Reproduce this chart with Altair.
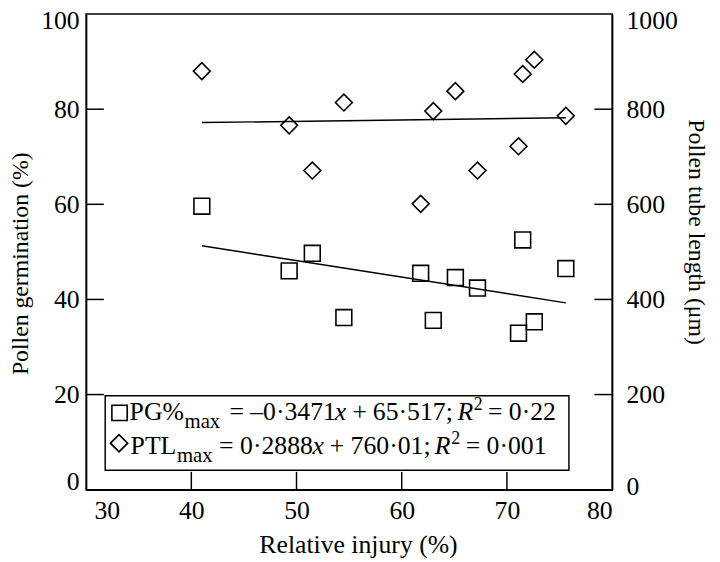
import altair as alt
import pandas as pd

# ---- data ----
injury = [41.0, 49.3, 51.5, 54.5, 61.8, 63.0, 65.1, 67.2, 71.1, 71.5, 72.6, 75.6]
pg_max = [59.6, 46.0, 49.7, 36.2, 45.5, 35.6, 44.6, 42.4, 32.9, 52.5, 35.3, 46.5]
ptl_max = [880, 766, 671, 814, 601, 796, 838, 671, 722, 874, 904, 786]
pg_slope, pg_intercept = -0.3471, 65.517
ptl_slope, ptl_intercept = 0.2888, 760.01
x_ticks = [30, 40, 50, 60, 70, 80]
pg_ticks = [0, 20, 40, 60, 80, 100]
ptl_ticks = [0, 200, 400, 600, 800, 1000]

FONT = "'Liberation Serif', 'Times New Roman', Times, serif"
W, H = 532, 481
TICK = 18

pts = pd.DataFrame({"injury": injury, "pg": pg_max, "ptl": ptl_max})
x_ends = [min(injury), max(injury)]
pg_line_df = pd.DataFrame({"injury": x_ends, "pg": [pg_slope * v + pg_intercept for v in x_ends]})
ptl_line_df = pd.DataFrame({"injury": x_ends, "ptl": [ptl_slope * v + ptl_intercept for v in x_ends]})
one = pd.DataFrame({"k": [0]})

x_scale = alt.Scale(domain=[30, 80], nice=False, zero=False)
pg_scale = alt.Scale(domain=[0, 100], nice=False)
ptl_scale = alt.Scale(domain=[0, 1000], nice=False)

x_axis = alt.Axis(values=x_ticks, title="Relative injury (%)", ticks=False, grid=False,
                  labelPadding=8, format="d",
                  labelOffset={"condition": {"test": "datum.value == 30", "value": 8}, "value": 0},
                  titleX=275, titleY=64, titleBaseline="alphabetic", titleAlign="center",
                  titleFontSize=26)
pg_axis = alt.Axis(values=pg_ticks, title="Pollen germination (%)", orient="left", ticks=False,
                   grid=False, labelPadding=7, format="d",
                   labelOffset={"condition": [{"test": "datum.value == 0", "value": -8},
                                              {"test": "datum.value == 100", "value": 7}],
                                "value": 0},
                   titleAngle=270, titleX=-66, titleY=252, titleBaseline="middle", titleAlign="center",
                   titleFontSize=24)
ptl_axis = alt.Axis(values=ptl_ticks, title="Pollen tube length (\u03bcm)", orient="right", ticks=False,
                    grid=False, labelPadding=14, format="d",
                    labelOffset={"condition": [{"test": "datum.value == 0", "value": -3},
                                               {"test": "datum.value == 1000", "value": 7}],
                                 "value": 0},
                    titleAngle=90, titleX=84, titleY=220, titleBaseline="middle", titleAlign="center",
                    titleFontSize=24)

X = alt.X("injury:Q", scale=x_scale, axis=x_axis)

squares = alt.Chart(pts).mark_point(shape="square", size=256, filled=False, color="black",
                                    strokeWidth=1.6, opacity=1).encode(
    x=X, y=alt.Y("pg:Q", scale=pg_scale, axis=pg_axis))
pg_line = alt.Chart(pg_line_df).mark_line(color="black", strokeWidth=1.5).encode(
    x=X, y=alt.Y("pg:Q", scale=pg_scale, axis=pg_axis))
left_ticks = alt.Chart(pd.DataFrame({"v": pg_ticks[1:-1]})).mark_rule(color="black", strokeWidth=1.5).encode(
    y=alt.Y("v:Q", scale=pg_scale, axis=pg_axis), x=alt.value(0), x2=alt.value(TICK))
bottom_ticks = alt.Chart(pd.DataFrame({"v": x_ticks[1:-1]})).mark_rule(color="black", strokeWidth=1.5).encode(
    x=alt.X("v:Q", scale=x_scale, axis=x_axis), y=alt.value(H), y2=alt.value(H - TICK))

diamonds = alt.Chart(pts).mark_point(shape="diamond", size=290, filled=False, color="black",
                                     strokeWidth=1.6, opacity=1).encode(
    x=X, y=alt.Y("ptl:Q", scale=ptl_scale, axis=ptl_axis))
ptl_line = alt.Chart(ptl_line_df).mark_line(color="black", strokeWidth=1.5).encode(
    x=X, y=alt.Y("ptl:Q", scale=ptl_scale, axis=ptl_axis))
right_ticks = alt.Chart(pd.DataFrame({"v": ptl_ticks[1:-1]})).mark_rule(color="black", strokeWidth=1.5).encode(
    y=alt.Y("v:Q", scale=ptl_scale, axis=ptl_axis), x=alt.value(W - TICK), x2=alt.value(W))

# ---- legend box drawn with text pieces ----
box = alt.Chart(one).mark_rect(fill="white", stroke="black", strokeWidth=1.5).encode(
    x=alt.value(19.3), x2=alt.value(488.3), y=alt.value(386), y2=alt.value(461.3))


def txt(s, x, y, size=26, style="normal"):
    return alt.Chart(one).mark_text(align="left", baseline="alphabetic", font=FONT, fontSize=size,
                                    fontStyle=style, color="black").encode(
        x=alt.value(x), y=alt.value(y), text=alt.value(s))


r1, r2 = 410.3, 445.3
SUB, SUP = 21, 18
legend_parts = [
    box,
    alt.Chart(one).mark_point(shape="square", size=240, filled=False, color="black",
                              strokeWidth=1.6, opacity=1).encode(x=alt.value(33.8), y=alt.value(403.3)),
    alt.Chart(one).mark_point(shape="diamond", size=300, filled=False, color="black",
                              strokeWidth=1.8, opacity=1).encode(x=alt.value(33.3), y=alt.value(434)),
    txt("PG%", 44.0, r1),
    txt("max", 99.5, r1 + 8, SUB),
    txt("=", 145, r1),
    txt("\u20130\u00b73471", 166, r1),
    txt("x", 251.5, r1, style="italic"),
    txt("+", 269.5, r1),
    txt("65\u00b7517;", 290, r1),
    txt("R", 375.5, r1, style="italic"),
    txt("2", 392, r1 - 10, SUP),
    txt("=", 406.5, r1),
    txt("0\u00b722", 427.5, r1),
    txt("PTL", 45, r2),
    txt("max", 91.8, r2 + 8, SUB),
    txt("=", 134.5, r2),
    txt("0\u00b72888", 155.7, r2),
    txt("x", 229, r2, style="italic"),
    txt("+", 246.5, r2),
    txt("760\u00b701;", 267.5, r2),
    txt("R", 352.7, r2, style="italic"),
    txt("2", 369.3, r2 - 10, SUP),
    txt("=", 384, r2),
    txt("0\u00b7001", 405, r2),
]

left = alt.layer(squares, pg_line, left_ticks, bottom_ticks, *legend_parts)
right = alt.layer(diamonds, ptl_line, right_ticks)

chart = alt.layer(left, right).resolve_scale(y="independent").properties(
    width=W, height=H, autosize="none",
    padding={"left": 79, "top": 3, "right": 101, "bottom": 70},
).configure_axis(
    labelFont=FONT, labelFontSize=26, labelColor="black",
    titleFont=FONT, titleFontWeight="normal", titleColor="black",
    domainColor="black", domainWidth=1.5,
).configure_view(stroke="black", strokeWidth=1.5)

chart.save("out.html", embed_options={"renderer": "svg", "actions": False})
